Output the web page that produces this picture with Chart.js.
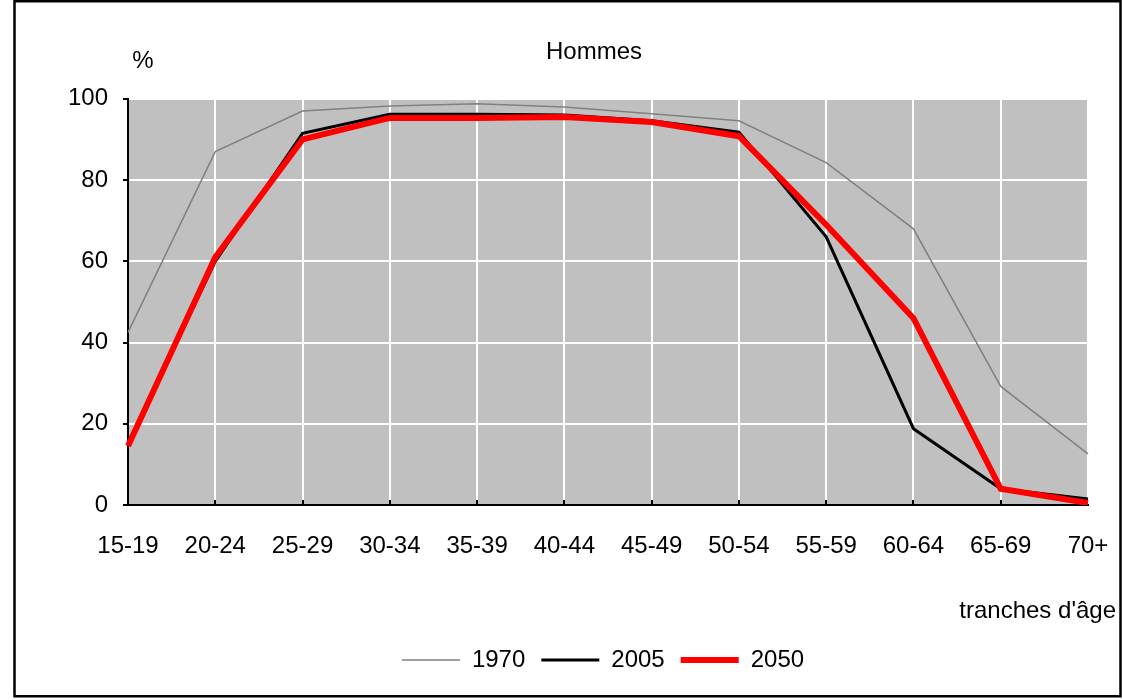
<!DOCTYPE html>
<html>
<head>
<meta charset="utf-8">
<script src="https://cdn.jsdelivr.net/npm/chart.js@4"></script>
<style>
  body { margin: 0; background: #fff; }
  #wrap { width: 1123px; height: 700px; position: relative; }
</style>
</head>
<body>
<div id="wrap"><canvas id="chart" width="1123" height="700"></canvas></div>
<script>
// tranches d'age
var ageGroups = ['15-19', '20-24', '25-29', '30-34', '35-39', '40-44', '45-49', '50-54', '55-59', '60-64', '65-69', '70+'];

// taux d'activite (%)
var values1970 = [42.5, 87, 97, 98.2, 98.8, 98, 96.3, 94.6, 84.3, 68, 29.2, 12.6];
var values2005 = [15, 60, 91.5, 96.2, 96.2, 96, 94.6, 91.8, 66, 18.8, 4, 1.5];
var values2050 = [14.5, 61, 90, 95.3, 95.3, 95.5, 94.3, 90.8, 69, 46, 4, 0.5];

var seriesNames = ['1970', '2005', '2050'];
var yTicks = [0, 20, 40, 60, 80, 100];

var FONT = 'Liberation Sans, Arial, sans-serif';

// fond gris, cadre et textes libres
var decoPlugin = {
    id: 'deco',
    afterLayout: function (chart) {
        // decale titre et legende vers la droite comme sur l'original
        chart.titleBlock.left += 50;
        chart.titleBlock.right += 50;
        chart.legend.left += 59;
        chart.legend.right += 59;
    },
    beforeDraw: function (chart) {
        var a = chart.chartArea;
        var ctx = chart.ctx;
        ctx.save();
        ctx.fillStyle = '#c0c0c0';
        ctx.fillRect(a.left, a.top, a.right - a.left, a.bottom - a.top);
        ctx.restore();
    },
    afterDraw: function (chart) {
        var a = chart.chartArea;
        var ctx = chart.ctx;
        ctx.save();
        // petites graduations vers l'interieur sur l'axe x
        var xs = chart.scales.x;
        ctx.strokeStyle = '#000';
        ctx.lineWidth = 2;
        ctx.beginPath();
        for (var i = 1; i < ageGroups.length - 1; i++) {
            var px = Math.round(xs.getPixelForTick(i));
            ctx.moveTo(px, a.bottom);
            ctx.lineTo(px, a.bottom - 5);
        }
        ctx.stroke();

        ctx.fillStyle = '#000';
        ctx.font = '24px ' + FONT;
        ctx.textBaseline = 'middle';
        ctx.textAlign = 'center';
        ctx.fillText('%', a.left + 15, a.top - 37);
        ctx.textAlign = 'right';
        ctx.fillText("tranches d'âge", a.right + 28, a.bottom + 106);
        // cadre
        ctx.strokeStyle = '#000';
        ctx.lineWidth = 2.5;
        ctx.strokeRect(14.5, 1.25, 1106, 695);
        ctx.restore();
    }
};

var ctx = document.getElementById('chart').getContext('2d');

var chart = new Chart(ctx, {
    type: 'line',
    data: {
        labels: ageGroups,
        datasets: [{
            label: seriesNames[0],
            data: values1970,
            borderColor: '#808080',
            borderWidth: 1.5,
            pointRadius: 0,
            order: 3
        }, {
            label: seriesNames[1],
            data: values2005,
            borderColor: '#000000',
            borderWidth: 3,
            pointRadius: 0,
            order: 2
        }, {
            label: seriesNames[2],
            data: values2050,
            borderColor: '#ff0000',
            borderWidth: 6,
            pointRadius: 0,
            order: 1
        }]
    },
    options: {
        responsive: false,
        animation: false,
        layout: {
            padding: { left: 0, right: 35, top: 0, bottom: 18 }
        },
        plugins: {
            title: {
                display: true,
                text: 'Hommes',
                color: '#000',
                font: { family: FONT, size: 24, weight: 'normal' },
                padding: { top: 38, bottom: 32 }
            },
            legend: {
                position: 'bottom',
                labels: {
                    color: '#000',
                    font: { family: FONT, size: 24 },
                    usePointStyle: true,
                    pointStyle: 'line',
                    pointStyleWidth: 58,
                    padding: 16,
                    generateLabels: function (chart) {
                        return chart.data.datasets.map(function (ds, i) {
                            return {
                                text: ds.label,
                                strokeStyle: ds.borderColor,
                                fillStyle: ds.borderColor,
                                lineWidth: ds.borderWidth,
                                pointStyle: 'line',
                                hidden: false,
                                datasetIndex: i
                            };
                        });
                    }
                }
            },
            tooltip: { enabled: false }
        },
        scales: {
            x: {
                offset: false,
                grid: { color: '#ffffff', lineWidth: 2, drawTicks: false },
                border: { color: '#000', width: 2 },
                ticks: {
                    color: '#000',
                    font: { family: FONT, size: 24 },
                    padding: 27,
                    maxRotation: 0,
                    autoSkip: false
                },
                afterFit: function (scale) {
                    scale.height = 127;
                    scale.paddingLeft = 0;
                    scale.paddingRight = 0;
                }
            },
            y: {
                min: 0,
                max: 100,
                afterBuildTicks: function (scale) {
                    scale.ticks = yTicks.map(function (v) { return { value: v }; });
                },
                grid: { color: '#ffffff', lineWidth: 2, drawTicks: true, tickColor: '#000', tickLength: 5 },
                border: { color: '#000', width: 2 },
                ticks: {
                    color: '#000',
                    font: { family: FONT, size: 24 },
                    padding: 15
                },
                afterFit: function (scale) {
                    scale.width = 128;
                }
            }
        }
    },
    plugins: [decoPlugin]
});
</script>
</body>
</html>
